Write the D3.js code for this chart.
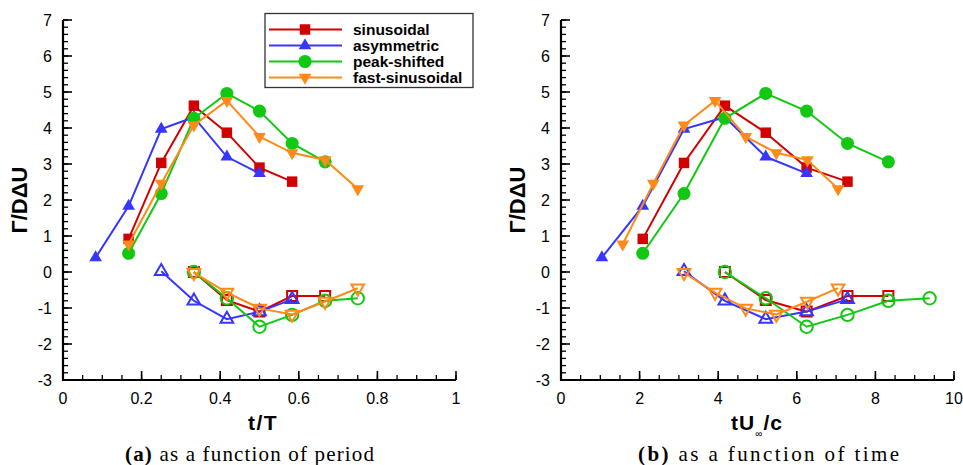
<!DOCTYPE html>
<html>
<head>
<meta charset="utf-8">
<script src="https://cdn.jsdelivr.net/npm/d3@7/dist/d3.min.js"></script>
<style>
  html, body { margin: 0; padding: 0; background: #fff; }
  svg { display: block; }
</style>
</head>
<body>
<svg id="fig" width="963" height="465"></svg>
<script>
// ---- data -------------------------------------------------------------
const seriesNames = ["sinusoidal", "asymmetric", "peak-shifted", "fast-sinusoidal"];
const seriesColors = ["#d20000", "#3636ff", "#12c812", "#ff8a18"];
const seriesSymbols = ["square", "triangleUp", "circle", "triangleDown"];

// circulation: positive branch (filled) and negative branch (open)
const sinUpperT = [0.167, 0.25, 0.333, 0.417, 0.5, 0.583];
const sinUpperV = [0.92, 3.03, 4.62, 3.87, 2.90, 2.51];
const sinUpperTc = [2.08, 3.13, 4.17, 5.21, 6.25, 7.29];
const sinLowerT = [0.333, 0.417, 0.5, 0.583, 0.667];
const sinLowerV = [0.0, -0.78, -1.10, -0.67, -0.67];
const sinLowerTc = [4.17, 5.21, 6.25, 7.29, 8.33];

const asyUpperT = [0.083, 0.167, 0.25, 0.333, 0.417, 0.5];
const asyUpperV = [0.40, 1.83, 3.97, 4.30, 3.20, 2.74];
const asyUpperTc = [1.04, 2.08, 3.13, 4.17, 5.21, 6.25];
const asyLowerT = [0.25, 0.333, 0.417, 0.5, 0.583];
const asyLowerV = [0.02, -0.80, -1.31, -1.10, -0.76];
const asyLowerTc = [3.13, 4.17, 5.21, 6.25, 7.29];

const pkUpperT = [0.167, 0.25, 0.333, 0.417, 0.5, 0.583, 0.667];
const pkUpperV = [0.52, 2.18, 4.27, 4.96, 4.47, 3.57, 3.06];
const pkUpperTc = [2.08, 3.13, 4.17, 5.21, 6.25, 7.29, 8.33];
const pkLowerT = [0.333, 0.417, 0.5, 0.583, 0.667, 0.75];
const pkLowerV = [0.0, -0.73, -1.52, -1.19, -0.80, -0.73];
const pkLowerTc = [4.17, 5.21, 6.25, 7.29, 8.33, 9.38];

const fastUpperT = [0.167, 0.25, 0.333, 0.417, 0.5, 0.583, 0.667, 0.75];
const fastUpperV = [0.77, 2.46, 4.08, 4.76, 3.76, 3.31, 3.11, 2.31];
const fastUpperTc = [1.57, 2.35, 3.13, 3.92, 4.70, 5.48, 6.27, 7.05];
const fastLowerT = [0.333, 0.417, 0.5, 0.583, 0.667, 0.75];
const fastLowerV = [-0.02, -0.57, -1.01, -1.18, -0.82, -0.45];
const fastLowerTc = [3.13, 3.92, 4.70, 5.48, 6.27, 7.05];

const yTicks = [-3, -2, -1, 0, 1, 2, 3, 4, 5, 6, 7];
const xTicksPeriod = [0, 0.2, 0.4, 0.6, 0.8, 1];
const xTicksTime = [0, 2, 4, 6, 8, 10];

const upperT = [sinUpperT, asyUpperT, pkUpperT, fastUpperT];
const upperTc = [sinUpperTc, asyUpperTc, pkUpperTc, fastUpperTc];
const upperV = [sinUpperV, asyUpperV, pkUpperV, fastUpperV];
const lowerT = [sinLowerT, asyLowerT, pkLowerT, fastLowerT];
const lowerTc = [sinLowerTc, asyLowerTc, pkLowerTc, fastLowerTc];
const lowerV = [sinLowerV, asyLowerV, pkLowerV, fastLowerV];

// ---- drawing ----------------------------------------------------------
const svg = d3.select("#fig");
const sansFont = "'Liberation Sans', Arial, Helvetica, sans-serif";
const serifFont = "'Liberation Serif', 'Times New Roman', serif";

const y = d3.scaleLinear().domain([-3, 7]).range([380, 20]);

function symbolPath(kind, open) {
  const sz = { square: open ? 100 : 110, triangleUp: 70, triangleDown: 70, circle: open ? 120 : 135 }[kind];
  const type = kind === "square" ? d3.symbolSquare
             : kind === "circle" ? d3.symbolCircle
             : d3.symbolTriangle;
  return d3.symbol().type(type).size(sz)();
}

function drawMarker(g, kind, color, cx, cy, open) {
  const rot = kind === "triangleDown" ? 180 : 0;
  g.append("path")
    .attr("d", symbolPath(kind, open))
    .attr("transform", `translate(${cx},${cy}) rotate(${rot})`)
    .attr("fill", open ? "none" : color)
    .attr("stroke", open ? color : "none")
    .attr("stroke-width", open ? 2 : 0);
}

function drawPanel(x, xTicks, minorStep, xFmt, upperX, lowerX) {
  const g = svg.append("g");
  const [x0, x1] = x.range();
  const [y0, y1] = [y(-3), y(7)];

  // minor ticks
  const [d0, d1] = x.domain();
  const xMinor = d3.range(d0, d1 + minorStep / 2, minorStep);
  const yMinor = d3.range(-3, 7.0001, 0.2);
  g.selectAll(".xm").data(xMinor).join("line")
    .attr("x1", d => x(d)).attr("x2", d => x(d))
    .attr("y1", y0).attr("y2", y0 - 5)
    .attr("stroke", "#000").attr("stroke-width", 1.3);
  g.selectAll(".ym").data(yMinor).join("line")
    .attr("x1", x0).attr("x2", x0 + 5)
    .attr("y1", d => y(d)).attr("y2", d => y(d))
    .attr("stroke", "#000").attr("stroke-width", 1.3);

  // major ticks
  g.selectAll(".xM").data(xTicks).join("line")
    .attr("x1", d => x(d)).attr("x2", d => x(d))
    .attr("y1", y0).attr("y2", y0 - 9)
    .attr("stroke", "#000").attr("stroke-width", 1.6);
  g.selectAll(".yM").data(yTicks).join("line")
    .attr("x1", x0).attr("x2", x0 + 9)
    .attr("y1", d => y(d)).attr("y2", d => y(d))
    .attr("stroke", "#000").attr("stroke-width", 1.6);

  // axis lines
  g.append("line").attr("x1", x0).attr("x2", x0).attr("y1", y0 + 1).attr("y2", y1)
    .attr("stroke", "#000").attr("stroke-width", 2.2);
  g.append("line").attr("x1", x0 - 1).attr("x2", x1).attr("y1", y0).attr("y2", y0)
    .attr("stroke", "#000").attr("stroke-width", 2.2);

  // tick labels
  g.selectAll(".xl").data(xTicks).join("text")
    .attr("x", d => x(d)).attr("y", y0 + 24)
    .attr("text-anchor", "middle")
    .attr("font-family", sansFont).attr("font-size", 16)
    .text(xFmt);
  g.selectAll(".yl").data(yTicks).join("text")
    .attr("x", x0 - 11).attr("y", d => y(d) + 6)
    .attr("text-anchor", "end")
    .attr("font-family", sansFont).attr("font-size", 16)
    .text(d => d);

  // y axis title
  g.append("text")
    .attr("transform", `translate(${x0 - 36},${(y0 + y1) / 2}) rotate(-90)`)
    .attr("text-anchor", "middle")
    .attr("font-family", sansFont).attr("font-weight", "bold").attr("font-size", 22)
    .text("Γ/DΔU");

  // series: lines, then markers
  const line = d3.line().x(d => x(d[0])).y(d => y(d[1]));
  seriesNames.forEach((name, i) => {
    const col = seriesColors[i];
    const up = d3.zip(upperX[i], upperV[i]);
    const lo = d3.zip(lowerX[i], lowerV[i]);
    g.append("path").attr("d", line(up)).attr("fill", "none")
      .attr("stroke", col).attr("stroke-width", 2);
    g.append("path").attr("d", line(lo)).attr("fill", "none")
      .attr("stroke", col).attr("stroke-width", 2);
    up.forEach(p => drawMarker(g, seriesSymbols[i], col, x(p[0]), y(p[1]), false));
    lo.forEach(p => drawMarker(g, seriesSymbols[i], col, x(p[0]), y(p[1]), true));
  });
  return g;
}

const xPeriod = d3.scaleLinear().domain([0, 1]).range([63, 456]);
const xTime = d3.scaleLinear().domain([0, 10]).range([561, 954]);

const gA = drawPanel(xPeriod, xTicksPeriod, 0.05,
  d => (d === 0 || d === 1) ? String(d) : d3.format(".1f")(d),
  upperT, lowerT);
const gB = drawPanel(xTime, xTicksTime, 0.5, d => String(d), upperTc, lowerTc);

// x axis titles
gA.append("text")
  .attr("x", 263).attr("y", 430)
  .attr("text-anchor", "middle")
  .attr("font-family", sansFont).attr("font-weight", "bold").attr("font-size", 21)
  .attr("letter-spacing", 1.5)
  .text("t/T");

const tb = gB.append("text")
  .attr("x", 757).attr("y", 430)
  .attr("text-anchor", "middle")
  .attr("font-family", sansFont).attr("font-weight", "bold").attr("font-size", 21)
  .attr("letter-spacing", 1);
tb.append("tspan").text("tU");
tb.append("tspan").attr("font-size", 10).attr("font-weight", "normal").attr("dy", 7).text("∞");
tb.append("tspan").attr("dy", -7).text("/c");

// captions
function caption(x0, x1, label, rest) {
  const t = svg.append("text")
    .attr("x", x0).attr("y", 461)
    .attr("textLength", x1 - x0).attr("lengthAdjust", "spacing")
    .attr("font-family", serifFont).attr("font-size", 21);
  t.append("tspan").attr("font-weight", "bold").text(label);
  t.append("tspan").text(" " + rest);
}
caption(125, 374, "(a)", "as a function of period");
caption(638, 899, "(b)", "as a function of time");

// legend
const leg = svg.append("g");
leg.append("rect").attr("x", 265).attr("y", 13.5).attr("width", 208).attr("height", 74)
  .attr("fill", "#fff").attr("stroke", "#333").attr("stroke-width", 1.3);
seriesNames.forEach((name, i) => {
  const ry = 29.5 + i * 16;
  leg.append("line").attr("x1", 269).attr("x2", 342).attr("y1", ry).attr("y2", ry)
    .attr("stroke", seriesColors[i]).attr("stroke-width", 2);
  drawMarker(leg, seriesSymbols[i], seriesColors[i], 305, ry, false);
  leg.append("text").attr("x", 353).attr("y", ry + 5.5)
    .attr("font-family", sansFont).attr("font-weight", "bold").attr("font-size", 15.5)
    .text(name);
});
</script>
</body>
</html>
